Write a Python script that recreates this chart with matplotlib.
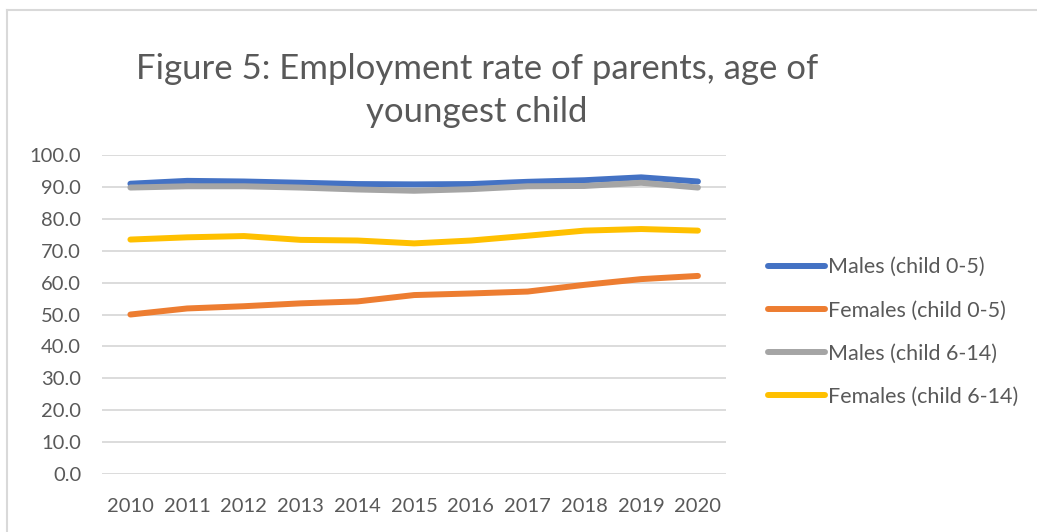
import matplotlib.pyplot as plt
from matplotlib.lines import Line2D

plt.rcParams['font.family'] = ['Lato', 'DejaVu Sans']

years = ['2010', '2011', '2012', '2013', '2014', '2015', '2016', '2017', '2018', '2019', '2020']
males_0_5 = [91.0, 91.9, 91.7, 91.3, 90.9, 90.8, 90.9, 91.6, 92.1, 93.0, 91.7]
females_0_5 = [50.0, 51.9, 52.6, 53.5, 54.1, 56.1, 56.6, 57.2, 59.3, 61.1, 62.1]
males_6_14 = [89.8, 90.2, 90.2, 89.8, 89.2, 88.8, 89.3, 90.2, 90.3, 91.3, 89.8]
females_6_14 = [73.5, 74.2, 74.6, 73.4, 73.2, 72.3, 73.2, 74.7, 76.3, 76.8, 76.3]

series = [
    ('Males (child 0-5)', males_0_5, '#4472C4'),
    ('Females (child 0-5)', females_0_5, '#ED7D31'),
    ('Males (child 6-14)', males_6_14, '#A5A5A5'),
    ('Females (child 6-14)', females_6_14, '#FFC000'),
]

text_col = '#595959'

fig = plt.figure(figsize=(10.37, 5.32), dpi=100)
ax = fig.add_axes([0.0984, 0.109, 0.602, 0.5996])

x = list(range(len(years)))
for name, vals, col in series:
    ax.plot(x, vals, color=col, linewidth=4.3, solid_capstyle='round',
            solid_joinstyle='round', label=name)

ax.set_xlim(-0.5, len(years) - 0.5)
ax.set_ylim(0, 100)
ax.set_yticks(range(0, 101, 10))
ax.set_yticklabels(['%.1f' % v for v in range(0, 101, 10)])
ax.set_xticks(x)
ax.set_xticklabels(years)
ax.grid(axis='y', color='#d9d9d9', linewidth=1.3)
ax.set_axisbelow(True)
for s in ax.spines.values():
    s.set_visible(False)
ax.tick_params(length=0, labelsize=14.5, colors=text_col)
ax.tick_params(axis='y', pad=15)
ax.tick_params(axis='x', pad=17.5)

fig.text(0.46, 0.83, 'Figure 5: Employment rate of parents, age of\nyoungest child',
         ha='center', va='center', fontsize=25, color=text_col, linespacing=1.42)

leg = fig.legend(loc='upper left', bbox_to_anchor=(0.722, 0.553), frameon=False,
                 fontsize=15.5, handlelength=2.65, handletextpad=0.12,
                 labelspacing=1.08)
for t in leg.get_texts():
    t.set_color(text_col)

# outer chart border
fig.add_artist(Line2D([0.0068, 0.0068], [0, 0.981], color='#d9d9d9', linewidth=1.5))
fig.add_artist(Line2D([0.0068, 1], [0.981, 0.981], color='#d9d9d9', linewidth=1.5))

plt.savefig('out.png', dpi=100)
plt.close()
